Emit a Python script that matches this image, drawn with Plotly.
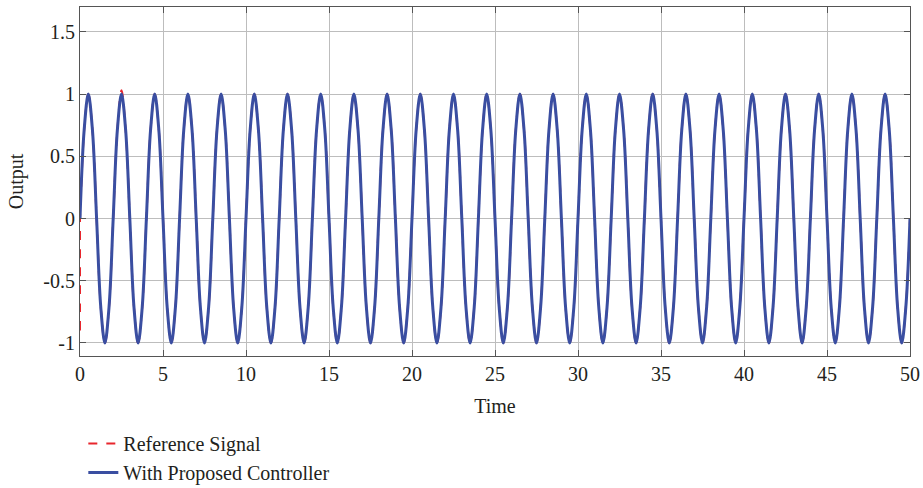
import plotly.graph_objects as go

output_vals = [
    0, 0.71, 1, 0.71, 0, -0.71, -1, -0.71,
    0, 0.71, 1, 0.71, 0, -0.71, -1, -0.71,
    0, 0.71, 1, 0.71, 0, -0.71, -1, -0.71,
    0, 0.71, 1, 0.71, 0, -0.71, -1, -0.71,
    0, 0.71, 1, 0.71, 0, -0.71, -1, -0.71,
    0, 0.71, 1, 0.71, 0, -0.71, -1, -0.71,
    0, 0.71, 1, 0.71, 0, -0.71, -1, -0.71,
    0, 0.71, 1, 0.71, 0, -0.71, -1, -0.71,
    0, 0.71, 1, 0.71, 0, -0.71, -1, -0.71,
    0, 0.71, 1, 0.71, 0, -0.71, -1, -0.71,
    0, 0.71, 1, 0.71, 0, -0.71, -1, -0.71,
    0, 0.71, 1, 0.71, 0, -0.71, -1, -0.71,
    0, 0.71, 1, 0.71, 0, -0.71, -1, -0.71,
    0, 0.71, 1, 0.71, 0, -0.71, -1, -0.71,
    0, 0.71, 1, 0.71, 0, -0.71, -1, -0.71,
    0, 0.71, 1, 0.71, 0, -0.71, -1, -0.71,
    0, 0.71, 1, 0.71, 0, -0.71, -1, -0.71,
    0, 0.71, 1, 0.71, 0, -0.71, -1, -0.71,
    0, 0.71, 1, 0.71, 0, -0.71, -1, -0.71,
    0, 0.71, 1, 0.71, 0, -0.71, -1, -0.71,
    0, 0.71, 1, 0.71, 0, -0.71, -1, -0.71,
    0, 0.71, 1, 0.71, 0, -0.71, -1, -0.71,
    0, 0.71, 1, 0.71, 0, -0.71, -1, -0.71,
    0, 0.71, 1, 0.71, 0, -0.71, -1, -0.71,
    0, 0.71, 1, 0.71, 0, -0.71, -1, -0.71,
    0,
]
time_step = 0.25

# Reference signal: initial transient at t=0 then same sinusoid (slight overshoot at t=2.5)
ref_t0 = [0, 0]
ref_v0 = [-0.9, 0]
reference_vals = list(output_vals)
reference_vals[10] = 1.03

x_ticks = [0, 5, 10, 15, 20, 25, 30, 35, 40, 45, 50]
y_ticks = [-1, -0.5, 0, 0.5, 1, 1.5]
y_tick_text = ["-1", "-0.5", "0", "0.5", "1", "1.5"]

FONT = "Liberation Serif, Times New Roman, serif"
TEXT = "#231f20"
BLUE = "#3a4ea1"
RED = "#e8262d"

times = [i * time_step for i in range(len(output_vals))]

fig = go.Figure()
fig.add_trace(go.Scatter(
    x=ref_t0 + times, y=ref_v0 + reference_vals, mode="lines",
    line=dict(color=RED, width=2, dash="dash", shape="spline"),
    name="Reference Signal",
))
fig.add_trace(go.Scatter(
    x=times, y=output_vals, mode="lines",
    line=dict(color=BLUE, width=3, shape="spline", smoothing=1.0),
    name="With Proposed Controller",
))

axis_common = dict(
    showline=True, linecolor="#555555", linewidth=1, mirror="ticks",
    ticks="inside", ticklen=6, tickcolor="#555555",
    showgrid=True, gridcolor="#bdbdbd", gridwidth=1, zeroline=False,
    tickfont=dict(family=FONT, size=20, color=TEXT),
    automargin=False,
)

fig.update_layout(
    width=923, height=488,
    margin=dict(l=80, r=13, t=7, b=132),
    paper_bgcolor="white", plot_bgcolor="white",
    font=dict(family=FONT, color=TEXT, size=20),
    xaxis=dict(range=[0, 50], tickvals=x_ticks,
               title=dict(text="Time", font=dict(family=FONT, size=20, color=TEXT), standoff=14),
               **axis_common),
    yaxis=dict(range=[-1.105, 1.70], tickvals=y_ticks, ticktext=y_tick_text,
               title=dict(text="Output", font=dict(family=FONT, size=20, color=TEXT), standoff=14),
               **axis_common),
    showlegend=True,
    legend=dict(x=0.004, xanchor="left", xref="paper",
                y=0.131, yanchor="top", yref="container",
                font=dict(family=FONT, size=20, color=TEXT),
                bgcolor="rgba(0,0,0,0)", tracegroupgap=0, itemwidth=30),
)

fig.write_html("out.html")
